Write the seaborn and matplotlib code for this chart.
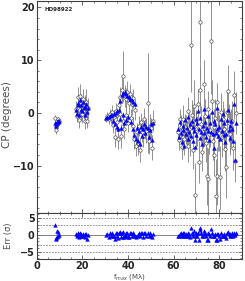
import numpy as np
import pandas as pd
import seaborn as sns
import matplotlib
matplotlib.use("Agg")
import matplotlib.pyplot as plt
from matplotlib.ticker import MultipleLocator

# spatial frequency (M lambda)
f_max = [
    8.1, 8.4, 8.6, 8.8, 9.0, 9.2, 9.4, 9.6,
    17.2, 17.6, 18.0, 18.3, 18.6, 19.0, 19.3, 19.6, 20.0, 20.3, 20.6, 21.0, 21.3, 21.6, 22.0, 22.3,
    30.5, 31.0, 31.5, 32.0, 32.5, 33.0, 33.4, 33.8, 34.2, 34.6, 35.0, 35.3, 35.6, 36.0, 36.3,
    36.6, 37.0, 37.3, 37.6, 38.0, 38.3, 38.6, 39.0, 39.3, 39.6, 40.0, 40.4, 40.8, 41.2, 41.6,
    42.0, 42.4, 42.8, 43.2, 43.6, 44.0, 44.4, 44.8, 45.2, 45.6, 46.0, 46.5, 47.0, 47.5, 48.0,
    48.6, 49.0, 49.5, 50.0, 50.5, 50.9,
    62.0, 62.4, 62.8, 63.2, 63.6, 64.0, 64.3, 64.7, 65.0, 65.4, 65.8, 66.2, 66.5, 66.9, 67.3,
    67.5, 67.9, 68.3, 68.7, 69.0, 69.2, 69.6, 70.0, 70.3, 70.7, 71.0, 71.4, 71.6, 72.0, 72.4,
    72.8, 73.1, 73.5, 73.9, 74.3, 74.7, 75.0, 75.2, 75.6, 76.0, 76.3, 76.7, 77.1, 77.5, 77.9,
    78.3, 78.5, 78.8, 79.2, 79.6, 80.0, 80.3, 80.7, 81.1, 81.5, 81.9, 82.3, 82.7, 83.0, 83.4,
    83.7, 84.1, 84.5, 84.9, 85.3, 85.7, 86.1, 86.6, 86.9, 87.2,
]

# observed closure phase (degrees)
cp_obs = [
    -0.9, -2.7, -3.3, -1.5, -2.2, -1.2, -1.9, -1.6,
    0.8, -0.6, 3.0, 1.2, -1.4, 3.2, 0.2, 1.8, -0.3, 2.6, 0.5, -1.6, 1.5, 2.0, -1.5, 0.9,
    -1.1, -0.6, -1.2, -0.2, -0.9, 0.2, -2.3, -0.8, -4.6, 0.4, -1.8, -0.5, -4.9, 1.4, -0.2,
    3.0, -4.4, 4.3, -1.5, 6.9, -3.1, 3.2, -0.5, 2.6, 4.0, -2.0, 1.8, 3.5, -0.9, 1.6,
    2.8, -2.4, -5.0, 0.6, -6.2, -3.6, -5.8, -2.5, -7.0, -1.8, -3.6, -4.4, -1.2, -3.0, -3.4,
    1.9, -5.4, -2.4, -2.9, -6.6, -1.5,
    -3.6, -5.2, -1.2, -2.6, -6.4, -1.2, -4.5, -5.0, -2.6, -3.2, -4.0, -6.2, 0.4, -3.0, -4.8,
    12.9, -0.4, -7.0, -1.6, 1.3, -15.5, -2.6, -3.0, -3.4, 1.6, -9.3, 17.3, 4.4, -2.2, -7.4,
    -3.6, 5.5, -2.8, -0.6, -5.8, -12.0, 0.8, -12.6, -4.0, -3.2, 13.6, 2.2, -5.4, -2.6, -8.0,
    -1.0, -15.8, -12.0, 2.0, -3.4, -3.8, -12.2, 0.2, -4.6, -1.2, -3.0, -3.0, -6.8, -10.2, 0.2,
    4.1, -2.0, -3.6, -4.0, -2.8, -1.6, -6.6, 3.4, -9.2, 0.0,
]

# 1-sigma uncertainty (degrees)
cp_err = [
    0.4, 0.5, 0.7, 0.5, 0.6, 0.5, 0.6, 0.5,
    1.5, 1.2, 2.0, 1.8, 1.4, 2.2, 1.5, 1.8, 1.6, 2.0, 1.7, 1.5, 1.9, 2.6, 1.4, 2.0,
    0.6, 0.7, 0.9, 1.0, 1.0, 1.2, 1.5, 1.3, 1.8, 1.4, 1.6, 1.5, 2.0, 1.7, 1.5,
    2.0, 2.2, 2.4, 1.6, 4.8, 1.9, 2.0, 1.8, 2.2, 2.0, 1.7, 2.1, 1.9, 1.6, 2.0,
    1.8, 1.6, 1.8, 2.0, 2.0, 1.7, 2.2, 1.9, 2.3, 1.8, 2.0, 2.1, 2.2, 2.0, 2.3,
    9.5, 2.4, 2.2, 2.0, 2.4, 2.0,
    1.5, 1.8, 2.0, 2.2, 2.4, 2.6, 2.5, 3.0, 2.4, 2.8, 2.5, 3.2, 2.6, 3.0, 3.4,
    9.0, 2.8, 3.6, 3.0, 5.0, 6.0, 3.2, 3.4, 2.8, 3.0, 4.0, 11.0, 4.2, 3.5, 3.6,
    3.0, 4.5, 3.4, 3.2, 3.6, 5.5, 3.4, 6.0, 3.8, 3.2, 10.0, 4.0, 3.6, 3.4, 4.0,
    3.6, 7.0, 5.5, 3.6, 3.8, 3.4, 6.0, 3.6, 3.8, 3.4, 4.0, 3.6, 4.2, 6.0, 3.8,
    5.0, 3.6, 3.8, 4.0, 3.6, 3.8, 4.2, 4.6, 4.0, 4.0,
]

# model closure phase (degrees)
cp_model = [
    -2.0, -2.2, -2.4, -2.0, -1.8, -1.6, -1.7, -1.6,
    0.6, -0.2, 1.8, 1.4, -0.4, 2.4, 0.6, 1.5, 0.3, 2.0, 1.0, -0.5, 1.2, 1.6, 0.2, 1.0,
    -1.0, -0.8, -0.7, -0.6, -0.5, -0.4, -1.6, -0.3, -2.2, -0.1, -2.6, 0.3, -3.0, 0.6, -1.2,
    2.2, -2.8, 3.4, -0.4, 3.8, -2.0, 3.9, -1.4, 3.6, 3.2, -0.8, 3.0, 2.7, -1.8, 2.4,
    2.0, -3.0, -4.2, 1.6, -5.0, -2.8, -5.4, -3.4, -6.0, -2.6, -4.4, -3.0, -2.2, -3.8, -2.6,
    -2.8, -4.6, -3.2, -2.2, -5.2, -2.0,
    -3.0, -4.6, -1.8, -3.8, -5.6, -2.4, -3.2, -6.2, -1.4, -4.0, -2.8, -5.0, -0.8, -3.6, -2.2,
    -4.4, -1.6, -5.4, -2.6, -3.4, -6.4, -1.2, -4.2, -2.0, 0.4, -3.0, -4.8, -1.0, -3.6, -6.0,
    -2.4, 0.8, -3.8, -1.8, -4.6, -2.8, -0.6, -3.4, -5.2, -2.0, -3.6, 0.2, -4.0, -1.6, -6.6,
    -2.2, -3.8, -3.0, 1.0, -4.4, -2.6, -5.0, -1.2, -3.4, -0.2, -4.2, -2.0, -5.6, -4.0, -1.4,
    0.6, -3.2, -2.4, -4.8, -1.6, -3.0, -5.4, 1.6, -9.0, -2.0,
]

df = pd.DataFrame({"f_max": f_max, "cp": cp_obs, "err": cp_err, "model": cp_model})
df["resid"] = (df["cp"] - df["model"]) / df["err"]

sns.set_style("ticks")
plt.rcParams["font.family"] = ["DejaVu Sans"]
plt.rcParams["xtick.direction"] = "in"
plt.rcParams["ytick.direction"] = "in"

fig = plt.figure(figsize=(2.45, 2.81), dpi=100)
ax1 = fig.add_axes([0.15, 0.242, 0.838, 0.754])
ax2 = fig.add_axes([0.15, 0.078, 0.838, 0.164])

# top panel: data with error bars, model triangles
ax1.errorbar(df["f_max"], df["cp"], yerr=df["err"], fmt="none",
             ecolor="0.5", elinewidth=0.6, zorder=1)
sns.scatterplot(data=df, x="f_max", y="cp", ax=ax1, marker="o", s=6,
                facecolor="white", edgecolor="0.25", linewidth=0.45, zorder=2)
sns.scatterplot(data=df, x="f_max", y="model", ax=ax1, marker="^", s=7,
                color="#0000ff", edgecolor="#0000ff", linewidth=0.3, zorder=3)
ax1.set_xlim(0, 90)
ax1.set_ylim(-19, 21.2)
ax1.set_xlabel("")
ax1.set_ylabel("")
ax1.yaxis.set_major_locator(MultipleLocator(10))
ax1.tick_params(labelbottom=False)
ax1.text(0.036, 0.962, "HD98922", transform=ax1.transAxes, fontsize=4,
         fontweight="bold", va="center", ha="left")

# bottom panel: residuals
for yv in [-5, -3, 3, 5]:
    ax2.axhline(yv, color="0.5", lw=0.6, ls=(0, (2, 1.5)), zorder=1)
ax2.axhline(0, color="0.45", lw=0.6, zorder=1)
sns.scatterplot(data=df, x="f_max", y="resid", ax=ax2, marker="^", s=7,
                color="#0000ff", edgecolor="#0000ff", linewidth=0.3, zorder=3)
ax2.set_xlim(0, 90)
ax2.set_ylim(-7.2, 6.4)
ax2.set_xlabel("")
ax2.set_ylabel("")
ax2.set_yticks([-5, 0, 5])
ax2.set_xticks([0, 20, 40, 60, 80])

for ax in (ax1, ax2):
    ax.xaxis.set_minor_locator(MultipleLocator(5))
    ax.tick_params(which="both", top=True, right=True, color="0.3",
                   labelsize=7, pad=1.5)
    ax.tick_params(which="major", length=3, width=0.6)
    ax.tick_params(which="minor", length=1.6, width=0.5)
    for lab in ax.get_xticklabels() + ax.get_yticklabels():
        lab.set_fontweight("bold")
    for sp in ax.spines.values():
        sp.set_linewidth(0.8)
        sp.set_color("0.25")
ax1.yaxis.set_minor_locator(MultipleLocator(2))
ax2.yaxis.set_minor_locator(MultipleLocator(1))

fig.text(0.03, 0.594, "CP (degrees)", rotation=90, fontsize=7.5,
         color="0.3", ha="center", va="center")
fig.text(0.035, 0.16, "Err (\u03c3)", rotation=90, fontsize=6,
         color="0.3", ha="center", va="center")
fig.text(0.53, 0.016, "f$_{max}$ (M\u03bb)", fontsize=5,
         color="0.3", ha="center", va="center")

fig.savefig("out.png", dpi=100)
